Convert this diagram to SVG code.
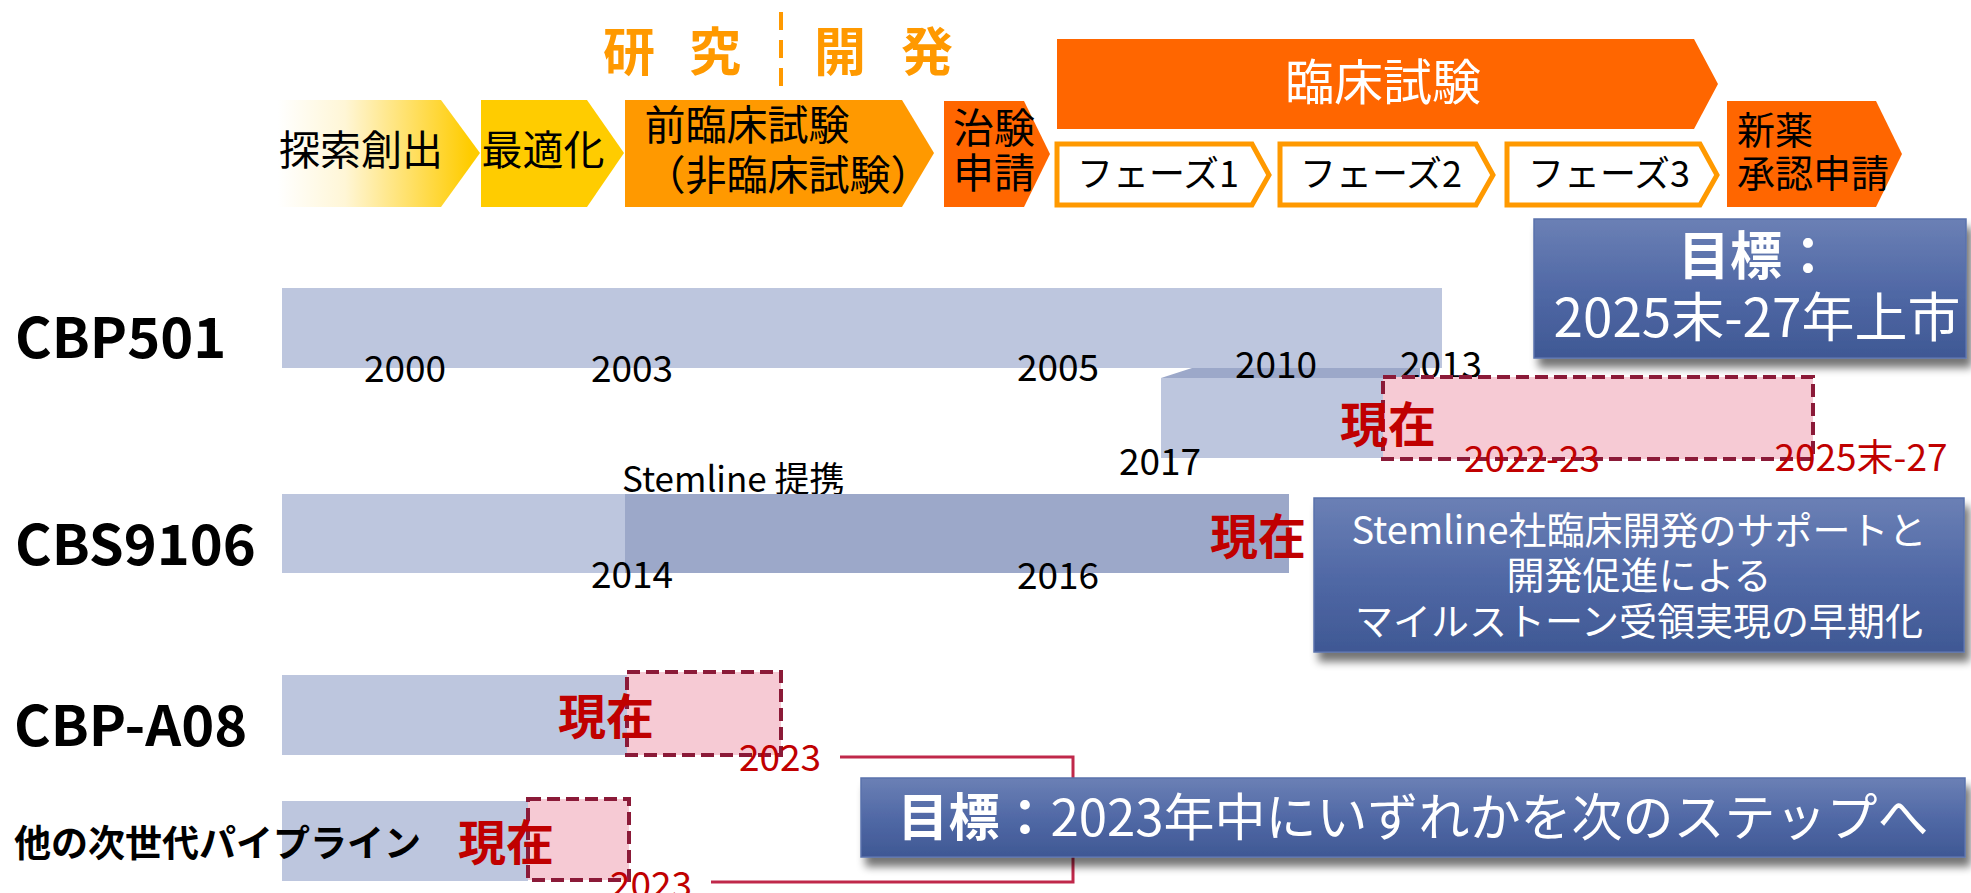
<svg xmlns="http://www.w3.org/2000/svg" width="1971" height="893" viewBox="0 0 1971 893">
<defs>
<linearGradient id="gExp" x1="278" y1="0" x2="470" y2="0" gradientUnits="userSpaceOnUse">
<stop offset="0" stop-color="#FFFFFF"/>
<stop offset="0.35" stop-color="#FFF6D6"/>
<stop offset="1" stop-color="#FFCC00"/>
</linearGradient>
<linearGradient id="gBlue" x1="0" y1="0" x2="0" y2="1">
<stop offset="0" stop-color="#6B80B5"/>
<stop offset="0.5" stop-color="#5169A6"/>
<stop offset="1" stop-color="#3F5894"/>
</linearGradient>
<filter id="shadow" x="-5%" y="-10%" width="115%" height="140%">
<feGaussianBlur in="SourceAlpha" stdDeviation="4"/>
<feOffset dx="5" dy="9" result="b"/>
<feComponentTransfer><feFuncA type="linear" slope="0.55"/></feComponentTransfer>
<feMerge><feMergeNode/><feMergeNode in="SourceGraphic"/></feMerge>
</filter>
</defs>
<style>
text{font-family:"Noto Sans CJK JP","Noto Sans",sans-serif;dominant-baseline:central}
.stage{font-size:41px;fill:#000}
.phase{fill:#FFFFFF;stroke:#FF9900;stroke-width:5}
.ph{font-size:36px;fill:#000;text-anchor:middle}
.hdr{font-size:52px;font-weight:bold;fill:#FF9900;text-anchor:middle}
.lbl{font-size:56px;font-weight:bold;fill:#000}
.bar{fill:#BDC6DE}
.bar2{fill:#9CA8C9}
.yr{font-size:37px;fill:#000;text-anchor:middle}
.ryr{font-size:37px;fill:#C00000;text-anchor:middle}
.now{font-size:48px;font-weight:bold;fill:#C00000;text-anchor:middle}
.pink{fill:#F6CAD4;stroke:#8B1A38;stroke-width:4;stroke-dasharray:13 6}
.bbox{fill:url(#gBlue);stroke:#5A72AC;stroke-width:1.5;filter:url(#shadow)}
.wt{fill:#FFFFFF;text-anchor:middle}
</style>

<g id="header">
<text class="hdr" x="629" y="48">研</text>
<text class="hdr" x="715" y="48">究</text>
<text class="hdr" x="840" y="48">開</text>
<text class="hdr" x="927" y="48">発</text>
<line x1="781" y1="12" x2="781" y2="95" stroke="#FF9900" stroke-width="4" stroke-dasharray="18 10"/>
</g>

<g id="stage-explore">
<polygon points="278,100 441,100 480,153 441,207 278,207" fill="url(#gExp)"/>
<text class="stage" x="361" y="147" text-anchor="middle">探索創出</text>
</g>
<g id="stage-opt">
<polygon points="481,100 587,100 624,153 587,207 481,207" fill="#FFCC00"/>
<text class="stage" x="543" y="147" text-anchor="middle">最適化</text>
</g>
<g id="stage-preclinical">
<polygon points="625,100 902,100 934,153 902,207 625,207" fill="#FF9900"/>
<text class="stage" x="747" y="122" text-anchor="middle">前臨床試験</text>
<text class="stage" x="788" y="172" text-anchor="middle">（非臨床試験）</text>
</g>
<g id="stage-ind">
<polygon points="944,101 1024,101 1050,154 1024,207 944,207" fill="#FF6600"/>
<text class="stage" x="994" y="125" text-anchor="middle">治験</text>
<text class="stage" x="994" y="170" text-anchor="middle">申請</text>
</g>
<g id="stage-clinical">
<polygon points="1057,39 1694,39 1718,84 1694,129 1057,129" fill="#FF6600"/>
<text x="1383" y="78" font-size="49" fill="#FFFFFF" text-anchor="middle">臨床試験</text>
</g>
<g id="phase1">
<polygon class="phase" points="1057,144 1252,144 1269,175 1252,205 1057,205"/>
<text class="ph" x="1158" y="171">フェーズ1</text>
</g>
<g id="phase2">
<polygon class="phase" points="1280,144 1476,144 1493,175 1476,205 1280,205"/>
<text class="ph" x="1381" y="171">フェーズ2</text>
</g>
<g id="phase3">
<polygon class="phase" points="1507,144 1700,144 1717,175 1700,205 1507,205"/>
<text class="ph" x="1609" y="171">フェーズ3</text>
</g>
<g id="stage-nda">
<polygon points="1727,101 1876,101 1902,154 1876,207 1727,207" fill="#FF6600"/>
<text x="1737" y="127" font-size="38" fill="#000">新薬</text>
<text x="1737" y="170" font-size="38" fill="#000">承認申請</text>
</g>

<g id="goal-cbp501">
<rect class="bbox" x="1534" y="219" width="432" height="139"/>
<text class="wt" x="1756" y="252" font-size="52" font-weight="bold">目標：</text>
<text class="wt" x="1757" y="314" font-size="53">2025末-27年上市</text>
</g>

<g id="row-cbp501">
<text class="lbl" x="15" y="333">CBP501</text>
<rect class="bar" x="282" y="288" width="1160" height="80"/>
<text class="yr" x="405" y="366">2000</text>
<text class="yr" x="632" y="366">2003</text>
<text class="yr" x="1058" y="365">2005</text>
<polygon class="bar2" points="1161,378 1192,368 1420,368 1420,378"/>
<rect class="bar" x="1161" y="378" width="222" height="80"/>
<text class="yr" x="1276" y="362">2010</text>
<text class="yr" x="1441" y="362">2013</text>
<text class="yr" x="1160" y="459">2017</text>
<rect class="pink" x="1383" y="377" width="430" height="82"/>
<text class="now" x="1388" y="421">現在</text>
<text class="ryr" x="1532" y="456">2022-23</text>
<text class="ryr" x="1861" y="455">2025末-27</text>
</g>

<g id="row-cbs9106">
<text class="lbl" x="15" y="540">CBS9106</text>
<text x="622" y="476" font-size="35" fill="#000">Stemline 提携</text>
<rect class="bar" x="282" y="494" width="343" height="79"/>
<rect class="bar2" x="625" y="494" width="664" height="79"/>
<text class="yr" x="632" y="572">2014</text>
<text class="yr" x="1058" y="573">2016</text>
<text class="now" x="1258" y="533">現在</text>
</g>

<g id="note-stemline">
<rect class="bbox" x="1314" y="498" width="650" height="154"/>
<text class="wt" x="1639" y="527" font-size="38">Stemline社臨床開発のサポートと</text>
<text class="wt" x="1639" y="572" font-size="38">開発促進による</text>
<text class="wt" x="1639" y="618" font-size="38">マイルストーン受領実現の早期化</text>
</g>

<g id="row-cbpa08">
<text class="lbl" x="14" y="721">CBP-A08</text>
<rect class="bar" x="282" y="675" width="345" height="80"/>
<rect class="pink" x="627" y="672" width="154" height="83"/>
<text class="now" x="606" y="713">現在</text>
<text class="ryr" x="780" y="755">2023</text>
</g>

<g id="row-other">
<rect class="bar" x="282" y="801" width="246" height="80"/>
<rect class="pink" x="528" y="799" width="101" height="81"/>
<text x="14" y="841" font-size="37" font-weight="bold" fill="#000">他の次世代パイプライン</text>
<text class="now" x="506" y="839">現在</text>
<text class="ryr" x="651" y="882">2023</text>
</g>

<g id="connectors">
<polyline points="840,757 1073,757 1073,882 711,882" fill="none" stroke="#C0284A" stroke-width="3"/>
</g>

<g id="goal-2023">
<rect class="bbox" x="861" y="778" width="1104" height="79"/>
<text class="wt" x="1413" y="814" font-size="51"><tspan font-weight="bold">目標：</tspan>2023年中にいずれかを次のステップへ</text>
</g>
</svg>
